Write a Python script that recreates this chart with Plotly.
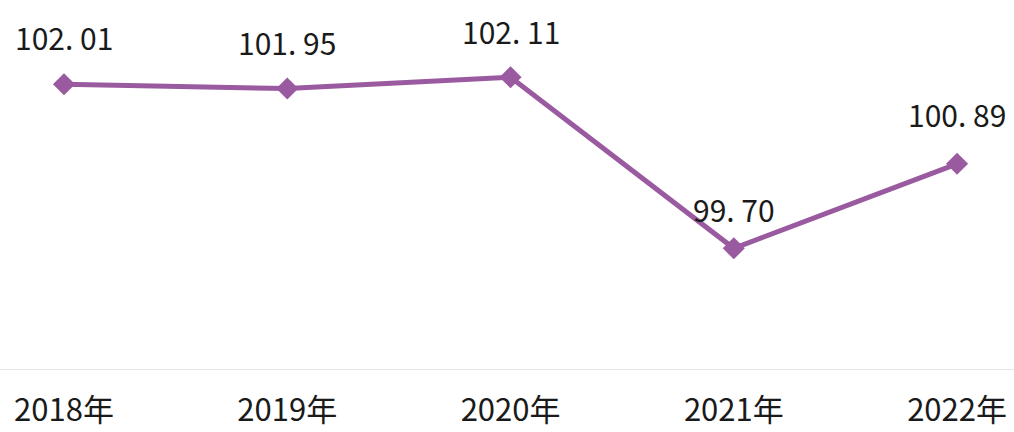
import plotly.graph_objects as go

years = ["2018年", "2019年", "2020年", "2021年", "2022年"]
values = [102.01, 101.95, 102.11, 99.70, 100.89]
label_shift = [47, 47, 46, 39, 50]

x_idx = list(range(len(years)))
labels = [f"{v:.2f}".replace(".", ". ") for v in values]

color = "#9a5aa0"
font_family = "Noto Sans CJK SC, Noto Sans, sans-serif"

fig = go.Figure()
fig.add_trace(go.Scatter(
    x=x_idx, y=values, mode="lines+markers",
    line=dict(color=color, width=5),
    marker=dict(symbol="diamond", size=17, color=color),
    cliponaxis=False, showlegend=False, hoverinfo="skip",
))

for xi, v, t, s in zip(x_idx, values, labels, label_shift):
    fig.add_annotation(x=xi, y=v, text=t, showarrow=False, yshift=s,
                       yanchor="middle", xanchor="center",
                       font=dict(family=font_family, size=30, color="#1a1a1a"))

fig.update_layout(
    width=1014, height=432,
    margin=dict(l=0, r=0, t=14, b=63, autoexpand=False),
    paper_bgcolor="white", plot_bgcolor="white",
    xaxis=dict(range=[-0.2867, 4.255], tickmode="array", tickvals=x_idx, ticktext=years,
               automargin=False,
               showgrid=False, zeroline=False, showline=True, linecolor="#e4e4e4", linewidth=1,
               ticks="outside", ticklen=14, tickcolor="rgba(0,0,0,0)",
               tickfont=dict(family=font_family, size=31, color="#1a1a1a")),
    yaxis=dict(range=[98, 103], visible=False, showgrid=False, zeroline=False, automargin=False),
)

fig.write_html("out.html", config={"displayModeBar": False},
               post_script="document.body.style.margin='0';document.body.style.overflow='hidden';")
